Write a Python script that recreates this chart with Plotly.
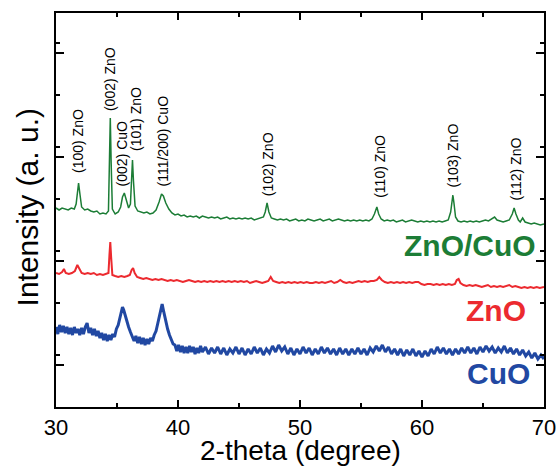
import plotly.graph_objects as go

# ---------------- data (2-theta in degrees, intensity in a.u.) ----------------
zno_cuo_points = [
    (30.0,199),(30.25,197),(30.5,199),(30.75,198),(31.0,197),(31.25,199),(31.5,198),(31.65,203),
    (31.75,218),(31.85,224),(31.95,214),(32.1,200),(32.35,197),(32.6,198),(32.85,196),(33.1,195),
    (33.35,196),(33.6,193),(33.85,194),(34.1,193),(34.3,196),(34.38,240),(34.45,289),(34.52,245),
    (34.62,198),(34.85,193),(35.1,195),(35.3,200),(35.45,210),(35.6,214),(35.75,208),(35.95,199),
    (36.1,203),(36.2,235),(36.27,247),(36.35,226),(36.48,201),(36.7,196),(36.95,195),(37.2,194),
    (37.45,195),(37.7,193),(37.95,194),(38.2,197),(38.45,205),(38.65,213),(38.8,211),(39.0,204),
    (39.25,198),(39.5,194),(39.75,192),(40.0,193),(40.25,191),(40.5,192),(40.75,190),(41.0,191),
    (41.25,190),(41.5,191),(41.75,189),(42.0,191),(42.25,190),(42.5,189),(42.75,190),(43.0,189),
    (43.25,190),(43.5,188),(43.75,189),(44.0,190),(44.25,188),(44.5,189),(44.75,188),(45.0,189),
    (45.25,188),(45.5,189),(45.75,188),(46.0,189),(46.25,187),(46.5,188),(46.75,189),(47.0,190),
    (47.15,195),(47.3,204),(47.45,195),(47.65,189),(47.9,188),(48.15,187),(48.4,188),(48.65,187),
    (48.9,188),(49.15,186),(49.4,187),(49.65,188),(49.9,186),(50.15,187),(50.4,186),(50.65,188),
    (50.9,187),(51.15,186),(51.4,187),(51.65,188),(51.9,186),(52.15,187),(52.4,188),(52.65,186),
    (52.9,187),(53.15,188),(53.4,187),(53.65,186),(53.9,187),(54.15,186),(54.4,187),(54.65,186),
    (54.9,187),(55.15,186),(55.4,187),(55.65,186),(55.9,188),(56.1,193),(56.3,200),(56.45,193),
    (56.65,188),(56.9,186),(57.15,187),(57.4,186),(57.65,187),(57.9,185),(58.15,186),(58.4,187),
    (58.65,185),(58.9,186),(59.15,187),(59.4,186),(59.65,185),(59.9,186),(60.15,185),(60.4,186),
    (60.65,185),(60.9,186),(61.15,185),(61.4,186),(61.65,185),(61.9,186),(62.15,187),(62.35,195),
    (62.45,208),(62.53,212),(62.62,204),(62.75,190),(62.95,186),(63.2,185),(63.45,186),(63.7,185),
    (63.95,186),(64.2,185),(64.45,186),(64.7,185),(64.95,186),(65.2,187),(65.45,186),(65.7,188),
    (65.95,190),(66.15,187),(66.4,186),(66.65,185),(66.9,186),(67.15,187),(67.4,193),(67.55,199),
    (67.7,193),(67.9,187),(68.05,185),(68.25,189),(68.45,185),(68.7,184),(68.95,183),(69.2,184),
    (69.45,183),(69.7,182),(70.0,183),
]

zno_points = [
    (30.0,134),(30.25,133),(30.5,135),(30.65,138),(30.8,134),(31.05,133),(31.3,134),(31.55,136),
    (31.75,142),(31.9,139),(32.1,134),(32.35,133),(32.6,134),(32.85,133),(33.1,134),(33.35,132),
    (33.6,133),(33.85,132),(34.1,133),(34.3,134),(34.38,152),(34.45,165),(34.52,150),(34.62,132),
    (34.85,131),(35.1,130),(35.35,131),(35.6,130),(35.85,131),(36.05,132),(36.2,137),(36.32,139),
    (36.45,134),(36.65,130),(36.9,129),(37.15,128),(37.4,129),(37.65,128),(37.9,127),(38.15,128),
    (38.4,127),(38.65,128),(38.9,127),(39.15,126),(39.4,127),(39.65,126),(39.9,127),(40.15,126),
    (40.4,125),(40.65,126),(40.9,127),(41.15,126),(41.4,125),(41.65,126),(41.9,125),(42.15,126),
    (42.4,125),(42.65,126),(42.9,125),(43.15,126),(43.4,125),(43.65,126),(43.9,125),(44.15,126),
    (44.4,125),(44.65,126),(44.9,125),(45.15,126),(45.4,125),(45.65,126),(45.9,124),(46.15,125),
    (46.4,126),(46.65,125),(46.9,124),(47.15,125),(47.4,126),(47.6,130),(47.8,126),(48.05,125),
    (48.3,124),(48.55,125),(48.8,124),(49.05,125),(49.3,124),(49.55,125),(49.8,124),(50.05,125),
    (50.3,124),(50.55,125),(50.8,124),(51.05,124),(51.3,125),(51.55,124),(51.8,125),(52.05,124),
    (52.3,125),(52.55,126),(52.8,124),(53.05,125),(53.3,127),(53.55,125),(53.8,124),(54.05,125),
    (54.3,124),(54.55,125),(54.8,126),(55.05,125),(55.3,126),(55.55,125),(55.8,126),(56.05,126),
    (56.3,127),(56.5,130),(56.7,127),(56.95,125),(57.2,124),(57.45,125),(57.7,124),(57.95,125),
    (58.2,124),(58.45,125),(58.7,124),(58.95,125),(59.2,124),(59.45,125),(59.7,125),(59.95,123),
    (60.2,122),(60.45,123),(60.7,123),(60.95,122),(61.2,123),(61.45,122),(61.7,123),(61.95,122),
    (62.2,123),(62.45,122),(62.7,123),(62.85,127),(63.0,128),(63.15,124),(63.4,122),(63.65,121),
    (63.9,122),(64.15,121),(64.4,122),(64.65,121),(64.9,120),(65.15,121),(65.4,122),(65.65,120),
    (65.9,121),(66.15,120),(66.4,121),(66.65,120),(66.9,121),(67.15,122),(67.4,120),(67.65,121),
    (67.9,120),(68.15,119),(68.4,120),(68.65,119),(68.9,120),(69.15,119),(69.4,120),(69.65,119),
    (70.0,120),
]

cuo_points = [
    (30.0,80),(30.15,73),(30.3,82),(30.45,75),(30.6,81),(30.75,74),(30.9,80),(31.05,73),(31.2,79),
    (31.35,72),(31.5,80),(31.65,74),(31.8,78),(31.95,72),(32.1,79),(32.25,73),(32.4,80),(32.55,84),
    (32.7,74),(32.85,79),(33.0,72),(33.15,78),(33.3,71),(33.45,76),(33.6,69),(33.75,74),(33.9,67),
    (34.05,73),(34.2,66),(34.35,72),(34.5,67),(34.65,73),(34.8,70),(34.95,78),(35.1,82),(35.25,90),
    (35.35,95),(35.45,100),(35.55,97),(35.65,92),(35.8,86),(35.95,80),(36.1,75),(36.25,71),(36.4,66),
    (36.55,71),(36.7,64),(36.85,70),(37.0,63),(37.15,69),(37.3,62),(37.45,68),(37.6,63),(37.75,69),
    (37.9,66),(38.05,72),(38.2,76),(38.35,84),(38.5,93),(38.6,100),(38.7,103),(38.8,97),(38.9,91),
    (39.0,85),(39.15,78),(39.3,72),(39.45,67),(39.6,63),(39.75,62),(39.9,56),(40.05,62),(40.2,55),
    (40.35,61),(40.5,54),(40.65,60),(40.8,54),(40.95,61),(41.1,55),(41.25,60),(41.4,53),(41.55,59),
    (41.7,54),(41.85,61),(42.0,55),(42.25,60),(42.5,53),(42.75,59),(43.0,54),(43.25,60),(43.5,53),
    (43.75,59),(44.0,52),(44.25,58),(44.5,54),(44.75,60),(45.0,53),(45.25,59),(45.5,52),(45.75,58),
    (46.0,53),(46.25,60),(46.5,54),(46.75,59),(47.0,52),(47.25,58),(47.5,54),(47.75,61),(48.0,55),
    (48.25,62),(48.5,56),(48.75,60),(49.0,53),(49.25,59),(49.5,52),(49.75,58),(50.0,53),(50.25,60),
    (50.5,54),(50.75,59),(51.0,52),(51.25,58),(51.5,53),(51.75,60),(52.0,54),(52.25,59),(52.5,53),
    (52.75,58),(53.0,52),(53.25,59),(53.5,53),(53.75,58),(54.0,52),(54.25,58),(54.5,53),(54.75,59),
    (55.0,53),(55.25,58),(55.5,52),(55.75,59),(56.0,55),(56.25,61),(56.5,56),(56.75,62),(57.0,55),
    (57.25,60),(57.5,53),(57.75,58),(58.0,52),(58.25,58),(58.5,51),(58.75,57),(59.0,52),(59.25,58),
    (59.5,51),(59.75,56),(60.0,50),(60.25,56),(60.5,51),(60.75,58),(61.0,53),(61.25,60),(61.5,54),
    (61.75,59),(62.0,53),(62.25,58),(62.5,52),(62.75,58),(63.0,53),(63.25,59),(63.5,54),(63.75,60),
    (64.0,54),(64.25,59),(64.5,53),(64.75,60),(65.0,55),(65.25,61),(65.5,56),(65.75,60),(66.0,54),
    (66.25,59),(66.5,55),(66.75,61),(67.0,54),(67.25,59),(67.5,53),(67.75,58),(68.0,52),(68.25,57),
    (68.5,51),(68.75,55),(69.0,49),(69.25,54),(69.5,48),(69.75,52),(70.0,48),
]

peak_labels = ["(100) ZnO", "(002) ZnO", "(002) CuO", "(101) ZnO", "(111/200) CuO",
               "(102) ZnO", "(110) ZnO", "(103) ZnO", "(112) ZnO"]
peak_label_x = [31.8, 34.43, 35.4, 36.55, 38.77, 47.4, 56.5, 62.5, 67.7]
peak_label_y = [232, 294, 219, 254, 219, 209, 207, 217, 205]

sample_names = ["ZnO/CuO", "ZnO", "CuO"]
sample_label_x = [69.5, 68.7, 69.0]
sample_label_y = [162, 97, 34]

x_title = "2-theta (degree)"
y_title = "Intensity (a. u.)"

GREEN = "#1c7d36"
RED = "#ec2a2f"
BLUE = "#2148a2"
FONT = "Liberation Sans, Arial, sans-serif"

fig = go.Figure()
for pts, color, width in [(cuo_points, BLUE, 3.0), (zno_points, RED, 2.0), (zno_cuo_points, GREEN, 1.5)]:
    xs = [p[0] for p in pts]
    ys = [p[1] for p in pts]
    fig.add_trace(go.Scatter(x=xs, y=ys, mode="lines",
                             line=dict(color=color, width=width), showlegend=False,
                             hoverinfo="skip"))

annotations = []
for txt, x, y in zip(peak_labels, peak_label_x, peak_label_y):
    annotations.append(dict(x=x, y=y, xref="x", yref="y", text=txt, showarrow=False,
                            textangle=-90, xanchor="center", yanchor="bottom",
                            font=dict(family=FONT, size=14, color="black")))
for txt, x, y, c in zip(sample_names, sample_label_x, sample_label_y, [GREEN, RED, BLUE]):
    annotations.append(dict(x=x, y=y, xref="x", yref="y", text="<b>%s</b>" % txt,
                            showarrow=False, xanchor="right", yanchor="middle",
                            font=dict(family=FONT, size=30, color=c)))
# axis titles
annotations.append(dict(x=0.5, y=-0.068, xref="paper", yref="paper", text=x_title,
                        showarrow=False, xanchor="center", yanchor="top", borderpad=0,
                        font=dict(family=FONT, size=28, color="black")))
annotations.append(dict(x=-0.059, y=0.507, xref="paper", yref="paper", text=y_title,
                        showarrow=False, xanchor="center", yanchor="middle", textangle=-90,
                        font=dict(family=FONT, size=30, color="black")))

fig.update_layout(
    width=559, height=468,
    margin=dict(l=56, r=15, t=13, b=61, autoexpand=False),
    paper_bgcolor="white", plot_bgcolor="white",
    font=dict(family=FONT, color="black"),
    annotations=annotations,
    xaxis=dict(range=[30, 70], dtick=10, tick0=30, ticks="inside", ticklen=7, tickwidth=2,
               tickcolor="black", showline=True, linecolor="black", linewidth=2,
               mirror="ticks", showgrid=False, zeroline=False, automargin=False,
               minor=dict(dtick=5, ticks="inside", ticklen=4, tickwidth=2, tickcolor="black"),
               tickfont=dict(family=FONT, size=22, color="black")),
    yaxis=dict(range=[0, 394], tick0=42, dtick=104, ticks="inside", ticklen=8, tickwidth=2,
               tickcolor="black", showline=True, linecolor="black", linewidth=2,
               mirror="ticks", showgrid=False, zeroline=False, showticklabels=False,
               automargin=False,
               minor=dict(dtick=52, ticks="inside", ticklen=4, tickwidth=2, tickcolor="black")),
)

fig.write_html("out.html", config={"displayModeBar": False},
               post_script="document.body.style.margin='0';document.body.style.overflow='hidden';")
